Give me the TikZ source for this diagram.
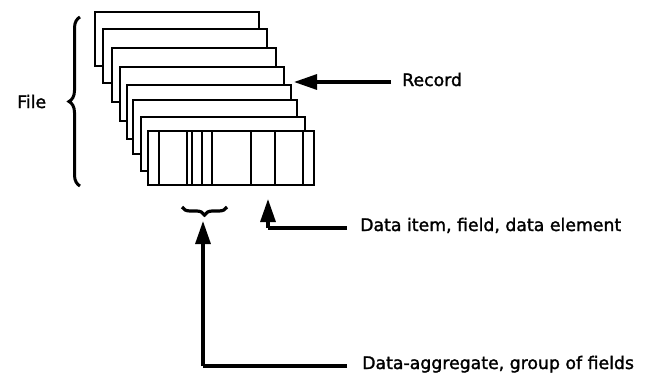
\documentclass[tikz,border=0pt]{standalone}
\usepackage{fontspec}
\setmainfont{DejaVu Sans}
\newfontfamily\lblfont[FakeBold=1.6]{DejaVu Sans}
\usetikzlibrary{arrows.meta,decorations.pathreplacing}
\tikzset{
  rec/.style={draw=black, fill=white, line width=2.3pt, minimum width=164pt, minimum height=54pt, anchor=north west, inner sep=0pt, outer sep=0pt},
  lbl/.style={font=\lblfont\fontsize{17.3}{20}\selectfont, inner sep=0pt, anchor=base west},
  conn/.style={line width=3.2pt, -{Triangle[length=23pt,width=15pt]}},
  bigbrace/.style={line width=3pt, decorate, decoration={brace, amplitude=11pt}},
  divider/.style={line width=2pt}
}
\begin{document}
\begin{tikzpicture}[x=1pt,y=-1pt]
\useasboundingbox (0,0) rectangle (650,372);
% records, back to front
\node[rec] (rec1) at (95,12) {};
\node[rec] (rec2) at (103,29) {};
\node[rec] (rec3) at (112,48) {};
\node[rec] (rec4) at (120,67) {};
\node[rec] (rec5) at (127,85) {};
\node[rec] (rec6) at (133,100) {};
\node[rec] (rec7) at (141,117) {};
\node[rec, minimum width=166pt] (rec8) at (148,131) {};
% fields in front record
\foreach \x in {159,187,192,202,212,251,275,303}
  \draw[divider] (\x,131) -- (\x,185);
% File brace
\coordinate (fb1) at (80,186);
\coordinate (fb2) at (80,17);
\draw[bigbrace] (fb1) -- (fb2);
\node[lbl] (file) at (17,108) {File};
% Record label and arrow
\node[lbl] (record) at (402,86) {Record};
\coordinate (recstart) at (391,82);
\coordinate (rectip) at (294,82);
\draw[conn] (recstart) -- (rectip);
% Small aggregate brace
\coordinate (sb1) at (227,207);
\coordinate (sb2) at (182,207);
\draw[line width=3.2pt, decorate, decoration={brace, amplitude=8pt}] (sb1) -- (sb2);
% Data item
\node[lbl] (item) at (360,231) {Data item, field, data element};
\coordinate (itemcorner) at (268,228);
\coordinate (itemtip) at (268,199);
\draw[line width=3.2pt] (item.base west) ++(-13,-3) -- (itemcorner);
\draw[conn] (itemcorner) -- (itemtip);
% Data aggregate
\node[lbl] (agg) at (362,369) {Data-aggregate, group of fields};
\coordinate (aggcorner) at (203,366);
\coordinate (aggtip) at (203,221);
\draw[line width=3.2pt] (agg.base west) ++(-15,-3) -- (aggcorner);
\draw[conn] (aggcorner) -- (aggtip);
\end{tikzpicture}
\end{document}
